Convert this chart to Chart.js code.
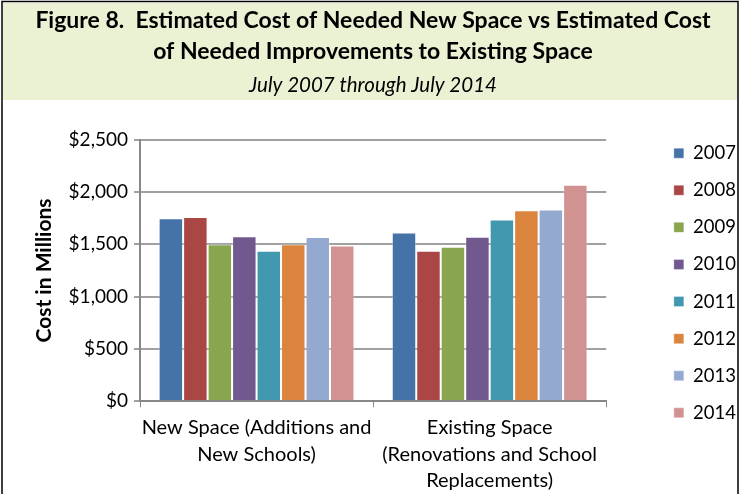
<!DOCTYPE html>
<html>
<head>
<meta charset="utf-8">
<script src="https://cdn.jsdelivr.net/npm/chart.js@4.4.1/dist/chart.umd.min.js"></script>
<style>
  html, body { margin: 0; padding: 0; background: #fff; }
  #wrap { width: 740px; height: 494px; }
</style>
</head>
<body>
<div id="wrap"><canvas id="myChart"></canvas></div>
<script>
// cost figures, millions of dollars
var categories = [
  ["New Space (Additions and", "New Schools)"],
  ["Existing Space", "(Renovations and School", "Replacements)"]
];
var years = ["2007", "2008", "2009", "2010", "2011", "2012", "2013", "2014"];
var newSpace = [1750, 1762, 1500, 1577, 1438, 1500, 1570, 1490];
var existingSpace = [1612, 1438, 1477, 1573, 1737, 1827, 1833, 2070];
var yearColors = ["#4572a7", "#aa4643", "#89a54e", "#71588f", "#4198af", "#db843d", "#93a9cf", "#d19392"];
var yTicks = [0, 500, 1000, 1500, 2000, 2500];

var datasets = [];
for (var i = 0; i < years.length; i++) {
  datasets.push({
    label: years[i],
    data: [newSpace[i], existingSpace[i]],
    backgroundColor: yearColors[i],
    borderColor: "rgba(255,255,255,0.35)",
    borderWidth: 1
  });
}

// green header band + frame
var frame = {
  id: "frame",
  beforeDraw: function (chart) {
    var c = chart.ctx;
    c.save();
    c.fillStyle = "#fff";
    c.fillRect(0, 0, chart.width, chart.height);
    c.fillStyle = "#ebf1d3";
    c.fillRect(3, 3, 734, 97);
    c.strokeStyle = "#000";
    c.lineWidth = 1.5;
    c.beginPath();
    c.moveTo(2, 600); c.lineTo(2, 1.5); c.lineTo(738, 1.5); c.lineTo(738, 600);
    c.stroke();
    c.restore();
  }
};

var ctx = document.getElementById("myChart");
var barGraph = new Chart(ctx, {
  type: "bar",
  data: { labels: categories, datasets: datasets },
  plugins: [frame],
  options: {
    responsive: true,
    maintainAspectRatio: false,
    animation: false,
    layout: { padding: { left: 0, right: -6, top: 0, bottom: -7 } },
    datasets: { bar: { categoryPercentage: 0.84, barPercentage: 1 } },
    plugins: {
      title: {
        display: true,
        text: ["Figure 8.  Estimated Cost of Needed New Space vs Estimated Cost", "of Needed Improvements to Existing Space"],
        color: "#000",
        font: { family: "Lato", size: 23, weight: "bold", lineHeight: 1.35 },
        padding: { top: 5, bottom: 0 }
      },
      subtitle: {
        display: true,
        text: "July 2007 through July 2014",
        color: "#000",
        font: { family: "Lato", size: 20.5, style: "italic", lineHeight: 1.3 },
        padding: { top: 5, bottom: 41 }
      },
      legend: {
        position: "right",
        title: { display: true, text: " ", font: { size: 10 }, padding: { top: 53, bottom: 0 } },
        labels: {
          color: "#000",
          font: { family: "Lato", size: 18.5 },
          boxWidth: 10,
          boxHeight: 10,
          padding: 18.6,
          useBorderRadius: false
        }
      },
      tooltip: { enabled: false }
    },
    scales: {
      x: {
        grid: { drawOnChartArea: false, drawTicks: true, tickLength: 6, color: "#888", offset: true },
        border: { color: "#888", width: 2 },
        ticks: { color: "#000", font: { family: "Lato", size: 20, lineHeight: 1.33 }, maxRotation: 0, autoSkip: false, padding: 7 }
      },
      y: {
        min: 0,
        max: 2500,
        afterBuildTicks: function (axis) {
          axis.ticks = yTicks.map(function (v) { return { value: v }; });
        },
        afterFit: function (axis) { axis.width = 140; },
        grid: { color: "#a0a0a0", lineWidth: 2, tickLength: 6 },
        border: { color: "#888", width: 2 },
        ticks: {
          color: "#000",
          font: { family: "Lato", size: 19 },
          padding: 6,
          callback: function (v) { return "$" + v.toLocaleString("en-US"); }
        },
        title: {
          display: true,
          text: "Cost in Millions",
          color: "#000",
          font: { family: "Lato", size: 21, weight: "bold" },
          padding: { top: 32, bottom: 0 }
        }
      },
      // empty spacer between plot and legend
      gap: {
        position: "right",
        display: true,
        grid: { display: false },
        border: { display: false },
        ticks: { display: false },
        afterFit: function (axis) { axis.width = 49; }
      }
    }
  }
});
</script>
</body>
</html>
